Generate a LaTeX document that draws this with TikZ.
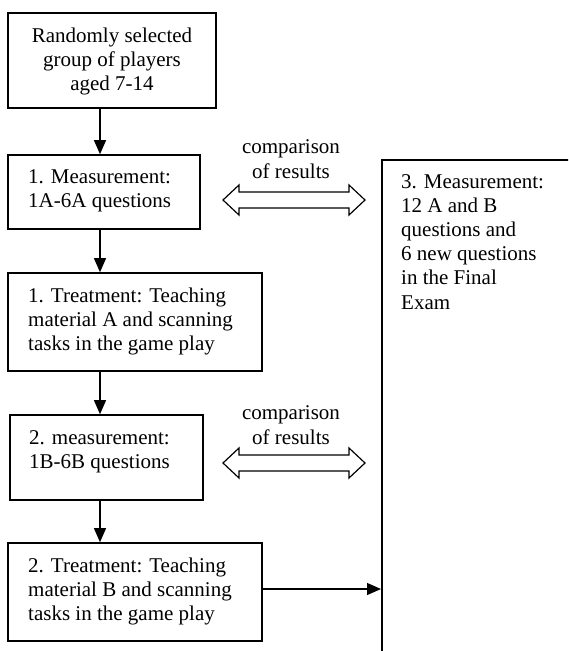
\documentclass[tikz,border=0pt]{standalone}
\usepackage{fontspec}
\setmainfont{Liberation Serif}
\usetikzlibrary{arrows.meta,calc}
\begin{document}
\begin{tikzpicture}[x=1pt,y=-1pt,
  boxnode/.style={draw=black,line width=1.6pt,rectangle,inner sep=0pt},
  txt/.style={font={\fontsize{21}{24.2}\selectfont},inner sep=0pt,align=left},
  arr/.style={line width=1.2pt,-{Triangle[length=14pt,width=12pt]}},
  dbl/.style={draw=black,line width=1.2pt,fill=white,line join=miter}]
\useasboundingbox (0,0) rectangle (568,651);
\clip (0,0) rectangle (568,651);
% boxes (text anchored at the baseline of its last line)
\node[boxnode,minimum width=208,minimum height=95] (A) at (112,60.5) {};
\node[txt,align=center,anchor=base] (At) at (112,90.4) {Randomly selected\\group of players\\aged 7-14};
\node[boxnode,minimum width=192,minimum height=74] (B) at (104,192) {};
\node[txt,anchor=base west] (Bt) at (28,207.2) {1. Measurement:\\1A-6A questions};
\node[boxnode,minimum width=254,minimum height=98] (C) at (135,322) {};
\node[txt,anchor=base west] (Ct) at (28,350.4) {1. Treatment: Teaching\\material A and scanning\\tasks in the game play};
\node[boxnode,minimum width=193,minimum height=85] (D) at (106.5,457.5) {};
\node[txt,anchor=base west] (Dt) at (29,468.2) {2. measurement:\\1B-6B questions};
\node[boxnode,minimum width=254,minimum height=98] (E) at (135,592) {};
\node[txt,anchor=base west] (Et) at (28,620.4) {2. Treatment: Teaching\\material B and scanning\\tasks in the game play};
\node[boxnode,minimum width=200,minimum height=520,anchor=north west] (F) at (381,159) {};
\node[txt,anchor=base west] (Ft) at (401,309) {3. Measurement:\\12 A and B\\questions and\\6 new questions\\in the Final\\Exam};
% vertical arrows
\coordinate (col) at (100,0);
\draw[arr] (A.south -| col) -- (B.north -| col);
\draw[arr] (B.south -| col) -- (C.north -| col);
\draw[arr] (C.south -| col) -- (D.north -| col);
\draw[arr] (D.south -| col) -- (E.north -| col);
% arrow to final box
\draw[arr] ([yshift=3pt]E.east) -- ([yshift=3pt]E.east -| F.west);
% comparison arrows
\foreach \yy in {200,463}{
  \draw[dbl] (223,\yy) -- (239,\yy-15) -- (239,\yy-8) -- (349,\yy-8) -- (349,\yy-15)
    -- (365,\yy) -- (349,\yy+15) -- (349,\yy+8) -- (239,\yy+8) -- (239,\yy+15) -- cycle;
}
\node[txt,align=center,anchor=base] (L1) at (291,178) {comparison\\of results};
\node[txt,align=center,anchor=base] (L2) at (291,444) {comparison\\of results};
\end{tikzpicture}
\end{document}
